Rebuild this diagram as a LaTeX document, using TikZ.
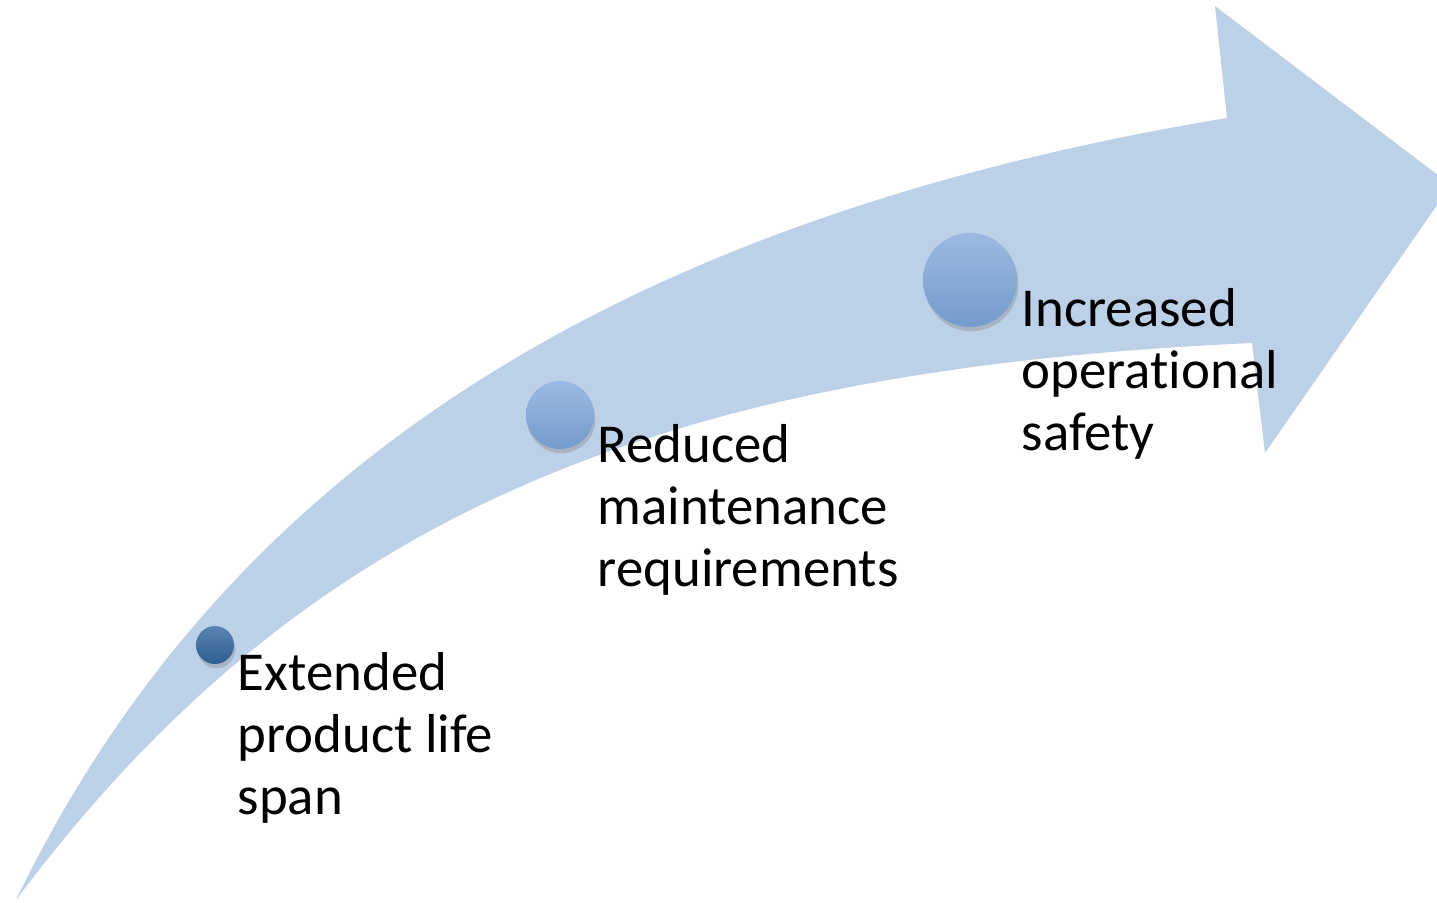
\documentclass[tikz,border=0pt]{standalone}
\usepackage{fontspec}
\setmainfont{Carlito}[Ligatures=NoCommon]
\usepackage{tikz}
\usetikzlibrary{shadows}
\definecolor{arrowblue}{RGB}{188,208,232}
\definecolor{darktop}{RGB}{92,132,178}
\definecolor{darkbot}{RGB}{46,94,146}
\definecolor{lighttop}{RGB}{156,186,224}
\definecolor{lightbot}{RGB}{116,155,204}

\begin{document}
\begin{tikzpicture}[
    dot/.style={circle, inner sep=0pt, draw=none,
        drop shadow={opacity=0.35, shadow xshift=0.4pt, shadow yshift=-1.2pt}},
    darkdot/.style={dot, top color=darktop, bottom color=darkbot},
    lightdot/.style={dot, top color=lighttop, bottom color=lightbot},
    steptext/.style={anchor=north west, inner sep=0pt, align=left,
        font=\fontsize{15.6pt}{17.6pt}\selectfont}
]
        % Frame
        \clip (0,0) rectangle (14.37,9.02);

        % Curved arrow
        \fill[arrowblue] (0.16,0.02) .. controls (2.00,3.82) and (5.50,6.72) .. (12.27,7.84)
            -- (12.15,8.96) -- (14.51,7.17) -- (12.65,4.49) -- (12.52,5.59)
            .. controls (6.50,5.32) and (3.00,3.82) .. (0.16,0.02) -- cycle;

        % Milestones
        \node[darkdot, minimum size=0.38cm] (c1) at (2.15,2.57) {};
        \node[lightdot, minimum size=0.68cm] (c2) at (5.60,4.87) {};
        \node[lightdot, minimum size=0.94cm] (c3) at (9.70,6.22) {};

        % Labels
        \node[steptext] (t1) at (2.37,2.50) {Extended\\product life\\span};
        \node[steptext] (t2) at (5.97,4.78) {Reduced\\maintenance\\requirements};
        \node[steptext] (t3) at (10.21,6.14) {Increased\\operational\\safety};
\end{tikzpicture}
\end{document}
